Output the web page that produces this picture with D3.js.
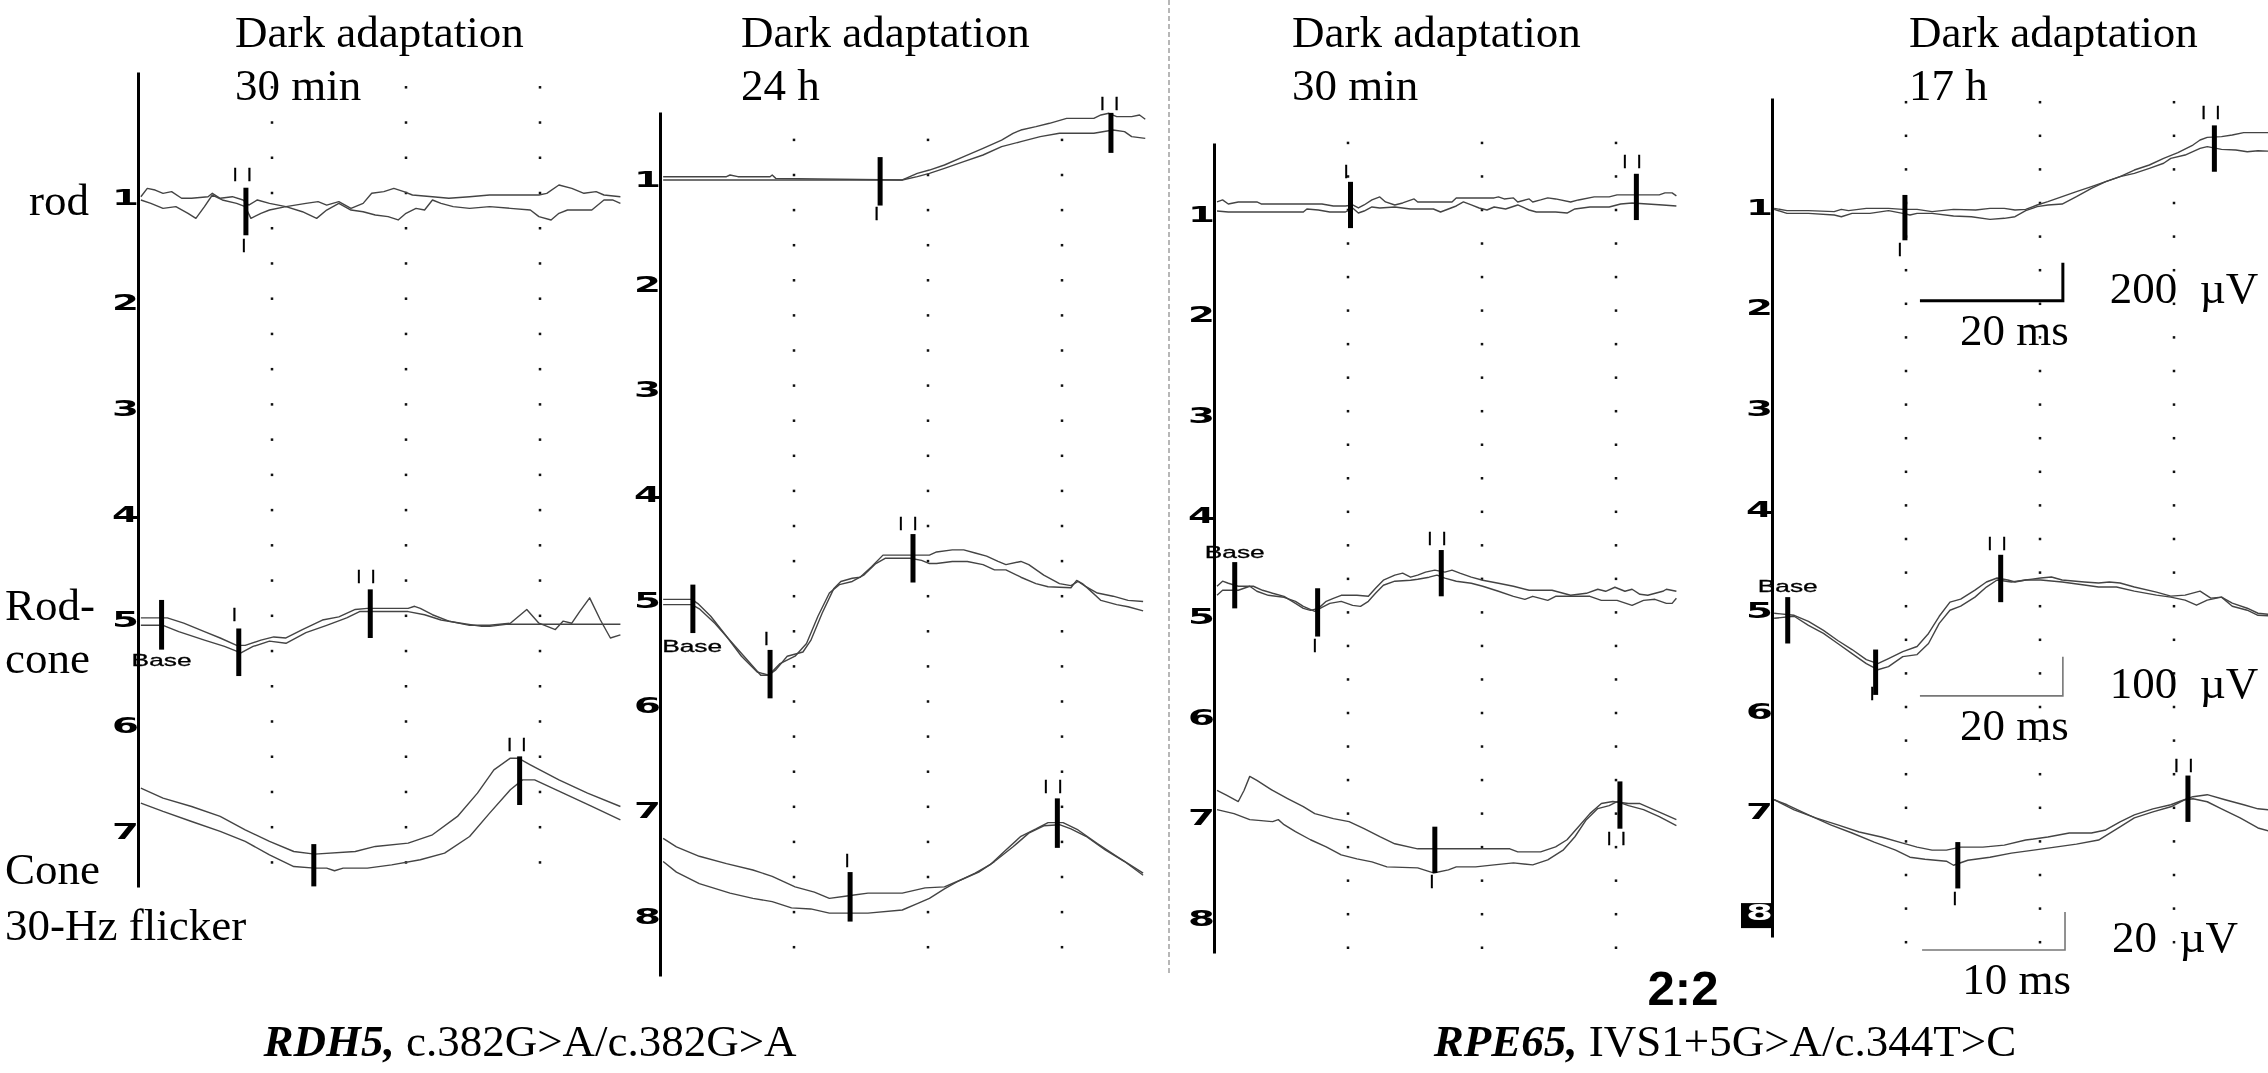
<!DOCTYPE html>
<html>
<head>
<meta charset="utf-8">
<script src="https://cdn.jsdelivr.net/npm/d3@7/dist/d3.min.js"></script>
<style>
  html, body { margin: 0; padding: 0; background: #fff; }
  svg { display: block; will-change: transform; }
</style>
</head>
<body>
<div id="chart-wrapper"></div>
<script>
// ############################################################################
// DATA
// ############################################################################
// Every trace point is [t, v]: t in ms (flicker rows use the 10 ms bar, so
// their ms are half as wide), v in channel units of the recorder axis (1..8).
// Each response was recorded twice, hence the A and B traces.

// ---- RDH5, dark adaptation 30 min -----------------------------------------
const p1RodA = [[0.4,1.035],[1.3,0.956],[2.4,0.972],[3.5,1.003],[4.7,0.987],[6.1,1.05],[7.5,1.05],[9.8,1.035],[10.4,1.003],[11.5,1.05],[13.2,1.035],[14.7,1.066],[15.5,1.114],[16.7,1.066],[18.4,1.098],[20.7,1.129],[23.5,1.098],[25.2,1.082],[26.4,1.114],[28.1,1.082],[29.8,1.145],[31.5,1.098],[32.7,1.003],[34.4,0.987],[35.8,0.956],[37.2,0.987],[38.4,1.019],[41.2,1.035],[43.5,1.05],[46.4,1.035],[49.2,1.019],[52.1,1.019],[56.1,1.019],[57.2,1.003],[58.9,0.924],[60.7,0.956],[62.4,1.003],[64.1,0.987],[65.2,1.019],[67.5,1.035]]
const p1RodB = [[0.4,1.066],[1.8,1.098],[3.5,1.145],[5.3,1.129],[7.0,1.192],[8.1,1.24],[9.3,1.129],[10.4,1.019],[11.8,1.066],[13.8,1.098],[15.0,1.129],[15.8,1.24],[17.2,1.192],[18.4,1.161],[20.7,1.129],[23.0,1.177],[25.0,1.24],[26.4,1.161],[28.1,1.098],[29.8,1.161],[31.5,1.177],[33.2,1.208],[35.0,1.224],[36.4,1.255],[37.5,1.192],[38.9,1.145],[40.1,1.161],[41.2,1.066],[42.4,1.098],[44.1,1.129],[46.4,1.145],[49.2,1.129],[52.1,1.145],[54.9,1.161],[56.1,1.224],[57.8,1.255],[58.9,1.192],[60.1,1.161],[63.5,1.161],[65.2,1.066],[66.4,1.066],[67.5,1.098]]
const p1RcA = [[0.4,5.02],[4.1,5.02],[6.4,5.07],[9.3,5.15],[11.5,5.21],[13.8,5.28],[15.0,5.28],[17.2,5.23],[19.0,5.20],[20.7,5.21],[23.0,5.13],[25.8,5.04],[28.1,5.01],[30.4,4.94],[32.1,4.93],[37.8,4.93],[38.7,4.91],[39.5,4.93],[41.2,4.99],[43.5,5.05],[46.4,5.09],[49.2,5.09],[52.1,5.07],[54.4,4.94],[56.1,5.07],[58.4,5.13],[59.5,5.05],[60.7,5.07],[61.8,4.96],[63.2,4.83],[64.7,5.04],[66.1,5.21],[67.5,5.18]]
const p1RcB = [[0.4,5.09],[3.5,5.09],[5.7,5.15],[9.3,5.23],[12.1,5.29],[14.4,5.35],[16.1,5.29],[18.4,5.24],[20.7,5.26],[23.5,5.16],[26.4,5.09],[29.2,5.02],[31.0,4.96],[32.7,4.96],[37.8,4.96],[40.1,4.99],[42.4,5.04],[45.2,5.07],[48.1,5.10],[49.2,5.10],[51.5,5.08],[54.9,5.08],[57.2,5.08],[60.7,5.08],[67.5,5.08]]
const p1FlA = [[0.2,6.63],[1.75,6.725],[3.75,6.804],[5.75,6.898],[7.5,7.025],[9.2,7.135],[10.9,7.23],[12.35,7.255],[15.2,7.23],[16.6,7.182],[18.9,7.151],[20.6,7.072],[22.35,6.898],[23.75,6.678],[24.9,6.457],[26.05,6.347],[26.6,6.347],[27.45,6.41],[29.45,6.552],[31.45,6.678],[33.75,6.804]]
const p1FlB = [[0.2,6.772],[1.75,6.851],[3.75,6.946],[5.75,7.04],[7.5,7.135],[9.2,7.261],[10.9,7.372],[12.35,7.387],[13.2,7.387],[13.75,7.412],[14.35,7.387],[16.05,7.387],[17.75,7.356],[19.75,7.308],[21.45,7.245],[23.2,7.088],[24.6,6.867],[26.05,6.646],[26.9,6.552],[27.75,6.552],[29.75,6.678],[31.75,6.804],[33.75,6.93]]
// markers: [row, t, v from, v to]; tags: [row, text, t, v]
const p1Bars = [['rod',15.1,0.95,1.40],['rc',3.3,4.85,5.32],['rc',14.1,5.12,5.57],['rc',32.5,4.75,5.21],['fl',12.3,7.16,7.56],['fl',26.7,6.33,6.79]]
const p1Tags = [['rod','II',14.6,0.89],['rod','I',14.8,1.56],['rc','Base',3.3,5.475],['rc','I',13.5,5.05],['rc','II',31.9,4.69],['fl','II',26.5,6.28]]

// ---- RDH5, dark adaptation 24 h -------------------------------------------
const p2RodA = [[0.44,1.016],[9.3,1.016],[9.8,1.0],[10.9,1.016],[15.4,1.016],[15.7,1.0],[16.2,1.032],[33.9,1.047],[34.4,1.032],[36.0,0.984],[37.7,0.953],[39.8,0.905],[42.5,0.826],[45.2,0.747],[47.8,0.668],[49.4,0.604],[50.5,0.573],[52.6,0.541],[54.5,0.509],[56.9,0.462],[60.7,0.462],[61.7,0.43],[62.8,0.414],[63.9,0.446],[66.0,0.446],[67.1,0.43],[67.9,0.471]]
const p2RodB = [[0.44,1.047],[33.9,1.047],[36.0,1.016],[37.7,0.984],[39.8,0.937],[42.5,0.873],[45.2,0.81],[47.8,0.731],[50.5,0.683],[53.2,0.636],[55.9,0.604],[60.7,0.604],[63.4,0.573],[65.0,0.588],[66.0,0.636],[67.9,0.652]]
const p2RcA = [[0.44,5.03],[4.45,5.03],[5.3,5.07],[7.1,5.19],[9.3,5.38],[11.4,5.57],[13.6,5.72],[15.2,5.75],[16.2,5.70],[17.8,5.57],[20.0,5.53],[21.1,5.42],[22.7,5.16],[24.3,4.93],[25.3,4.86],[26.9,4.83],[28.0,4.82],[29.6,4.72],[31.2,4.61],[37.7,4.61],[38.7,4.58],[40.9,4.56],[42.5,4.56],[44.1,4.59],[45.7,4.62],[47.3,4.67],[48.4,4.70],[50.5,4.67],[51.6,4.70],[53.7,4.80],[55.9,4.88],[57.5,4.90],[58.5,4.86],[59.6,4.91],[61.2,4.97],[63.4,5.00],[65.5,5.04],[67.6,5.05]]
const p2RcB = [[0.44,5.08],[4.45,5.08],[5.5,5.12],[7.7,5.26],[9.8,5.42],[12.0,5.59],[14.1,5.75],[15.2,5.75],[16.8,5.64],[18.9,5.57],[20.5,5.45],[22.1,5.19],[23.7,4.97],[25.1,4.89],[26.9,4.86],[28.5,4.80],[30.2,4.69],[31.5,4.64],[35.0,4.64],[36.6,4.66],[37.7,4.69],[38.7,4.69],[40.9,4.67],[43.0,4.67],[45.2,4.70],[46.8,4.75],[48.4,4.75],[50.5,4.82],[52.6,4.88],[54.3,4.91],[57.5,4.92],[58.3,4.85],[59.1,4.88],[60.1,4.94],[61.7,5.04],[63.9,5.08],[65.5,5.10],[67.6,5.14]]
const p2FlA = [[0.22,7.30],[1.15,7.38],[2.75,7.47],[4.65,7.54],[6.5,7.60],[7.85,7.66],[9.45,7.76],[10.8,7.81],[11.85,7.87],[12.95,7.85],[13.45,7.84],[14.55,7.82],[16.95,7.82],[18.55,7.77],[19.9,7.76],[20.95,7.70],[22.05,7.63],[23.1,7.55],[24.2,7.41],[25.25,7.28],[26.3,7.21],[27.15,7.15],[28.2,7.15],[29.25,7.22],[30.6,7.35],[31.95,7.47],[33.8,7.63]]
const p2FlB = [[0.22,7.52],[1.15,7.62],[2.75,7.73],[4.9,7.82],[6.5,7.87],[7.85,7.90],[9.2,7.96],[10.55,7.97],[11.85,8.01],[13.2,8.01],[14.55,8.01],[16.95,7.98],[18.0,7.92],[18.85,7.87],[19.9,7.78],[20.95,7.70],[22.3,7.62],[23.4,7.52],[24.7,7.38],[25.8,7.25],[26.85,7.18],[27.95,7.17],[28.75,7.21],[29.8,7.28],[31.15,7.41],[32.5,7.52],[33.8,7.65]]
const p2Bars = [['rod',30.8,0.83,1.29],['rod',63.1,0.41,0.79],['rc',4.6,4.89,5.35],['rc',15.4,5.51,5.97],['rc',35.4,4.41,4.87],['fl',13.3,7.62,8.09],['fl',27.8,6.92,7.39]]
const p2Tags = [['rod','I',30.3,1.43],['rod','II',62.9,0.38],['rc','Base',4.5,5.53],['rc','I',14.9,5.46],['rc','II',34.7,4.37],['fl','I',13.1,7.57],['fl','II',27.5,6.87]]

// ---- RPE65, dark adaptation 30 min ----------------------------------------
const p3RodA = [[0.42,0.92],[1.2,0.90],[2.0,0.94],[3.4,0.92],[6.0,0.92],[6.6,0.94],[15.1,0.94],[16.7,0.96],[18.4,0.96],[19.4,0.95],[20.2,0.98],[21.0,0.95],[22.1,0.90],[23.2,0.87],[24.0,0.92],[25.3,0.95],[26.4,0.93],[28.0,0.89],[28.5,0.92],[33.3,0.92],[33.9,0.88],[39.2,0.88],[39.8,0.87],[40.6,0.89],[41.9,0.88],[42.5,0.92],[44.1,0.89],[44.6,0.92],[45.7,0.90],[46.7,0.88],[47.8,0.89],[49.9,0.92],[51.0,0.90],[53.2,0.87],[55.3,0.87],[56.4,0.85],[62.3,0.85],[63.1,0.83],[64.1,0.83],[64.7,0.86]]
const p3RodB = [[0.42,1.01],[2.0,1.02],[12.5,1.02],[13.0,0.99],[14.6,1.0],[16.2,1.02],[18.4,1.02],[19.4,0.98],[20.2,1.03],[21.0,1.01],[22.1,0.97],[23.2,0.98],[25.3,0.97],[27.5,0.99],[30.7,0.99],[31.7,1.02],[32.8,0.99],[33.9,0.96],[34.9,0.92],[36.0,0.95],[37.1,0.98],[38.2,1.0],[39.2,0.97],[40.8,0.99],[42.5,0.95],[44.1,1.0],[45.1,1.02],[47.8,1.02],[49.4,1.03],[50.5,0.99],[52.6,0.97],[55.3,0.97],[56.9,0.94],[58.5,0.93],[62.8,0.95],[64.7,0.96]]
const p3RcA = [[0.42,4.74],[1.2,4.69],[2.0,4.71],[3.4,4.74],[5.5,4.74],[6.8,4.78],[8.2,4.81],[9.8,4.84],[11.4,4.91],[12.5,4.96],[13.5,4.98],[14.6,4.96],[15.7,4.89],[16.7,4.86],[17.8,4.83],[20.0,4.83],[21.6,4.84],[22.6,4.76],[23.7,4.68],[25.3,4.63],[26.4,4.61],[27.5,4.65],[28.5,4.63],[29.6,4.60],[30.9,4.58],[32.3,4.60],[33.3,4.58],[34.4,4.61],[36.0,4.65],[37.6,4.68],[39.8,4.71],[41.9,4.74],[44.1,4.78],[47.3,4.78],[49.9,4.83],[52.1,4.81],[53.7,4.77],[54.8,4.79],[56.1,4.75],[57.5,4.79],[58.5,4.77],[59.6,4.82],[60.7,4.83],[62.8,4.79],[63.3,4.77],[64.7,4.79]]
const p3RcB = [[0.42,4.83],[1.2,4.78],[3.4,4.78],[5.0,4.74],[6.0,4.79],[7.6,4.83],[9.8,4.85],[11.4,4.89],[12.5,4.94],[14.1,4.99],[15.1,4.95],[16.2,4.91],[17.8,4.89],[19.4,4.93],[20.5,4.94],[21.6,4.89],[22.6,4.81],[23.7,4.73],[25.3,4.69],[27.5,4.68],[28.5,4.67],[30.1,4.65],[31.2,4.63],[32.3,4.66],[33.9,4.69],[36.0,4.71],[37.6,4.74],[39.8,4.79],[41.9,4.84],[43.5,4.87],[44.6,4.84],[46.7,4.88],[47.8,4.84],[52.6,4.84],[54.2,4.88],[56.4,4.88],[58.5,4.93],[60.1,4.88],[61.7,4.87],[63.3,4.91],[64.1,4.91],[64.7,4.86]]
const p3FlA = [[0.21,6.77],[0.9,6.82],[1.7,6.88],[2.1,6.77],[2.5,6.63],[3.0,6.67],[4.1,6.77],[5.15,6.85],[6.25,6.93],[7.05,7.00],[8.35,7.05],[9.45,7.08],[10.5,7.15],[11.6,7.23],[12.65,7.30],[14.25,7.35],[20.7,7.35],[21.25,7.38],[22.85,7.38],[23.9,7.33],[24.7,7.26],[25.5,7.13],[26.3,7.00],[27.1,6.90],[27.9,6.88],[29.0,6.90],[29.8,6.90],[30.6,6.95],[31.4,7.00],[32.35,7.06]]
const p3FlB = [[0.21,6.96],[1.4,7.00],[2.5,7.06],[3.3,7.07],[4.1,7.08],[4.5,7.06],[4.9,7.11],[5.7,7.18],[6.75,7.26],[7.85,7.33],[8.9,7.41],[10.0,7.45],[11.05,7.48],[12.1,7.53],[14.25,7.54],[15.35,7.59],[16.4,7.56],[16.95,7.53],[18.3,7.53],[19.6,7.51],[20.95,7.49],[22.3,7.51],[23.35,7.46],[24.45,7.36],[25.25,7.23],[26.05,7.06],[26.85,6.95],[27.65,6.92],[28.2,6.88],[29.0,6.92],[30.05,6.96],[31.15,7.03],[32.35,7.12]]
const p3Bars = [['rod',19.1,0.72,1.18],['rod',59.1,0.64,1.10],['rc',2.9,4.50,4.96],['rc',14.5,4.76,5.24],['rc',31.8,4.38,4.84],['fl',15.45,7.13,7.59],['fl',28.4,6.68,7.15]]
const p3Tags = [['rod','I',18.5,0.685],['rod','II',58.5,0.585],['rc','Base',2.9,4.46],['rc','I',14.1,5.39],['rc','II',31.2,4.33],['fl','I',15.25,7.74],['fl','II',28.15,7.31]]

// ---- RPE65, dark adaptation 17 h ------------------------------------------
const p4RodA = [[0.3,1.053],[2.1,1.076],[5.1,1.076],[8.7,1.086],[9.7,1.063],[10.7,1.076],[13.2,1.053],[16.3,1.053],[18.3,1.063],[20.3,1.063],[22.4,1.086],[25.4,1.063],[28.5,1.069],[30.5,1.053],[32.5,1.053],[34.0,1.069],[35.5,1.063],[37.1,1.020],[38.6,0.987],[40.6,0.937],[42.6,0.888],[44.7,0.838],[46.7,0.788],[48.7,0.739],[50.7,0.673],[52.8,0.623],[54.8,0.557],[56.8,0.501],[58.9,0.425],[59.9,0.375],[60.9,0.349],[62.9,0.342],[64.4,0.325],[66.0,0.302],[71.0,0.302]]
const p4RodB = [[0.3,1.063],[2.1,1.103],[5.1,1.103],[8.7,1.119],[9.7,1.136],[11.2,1.103],[13.7,1.103],[16.3,1.076],[18.3,1.103],[19.3,1.119],[20.3,1.103],[22.4,1.103],[25.4,1.129],[27.9,1.136],[30.5,1.162],[32.5,1.152],[34.0,1.136],[35.5,1.076],[37.1,1.036],[38.6,1.020],[40.6,1.010],[42.6,0.937],[44.7,0.854],[46.7,0.788],[48.7,0.739],[50.7,0.706],[52.8,0.656],[54.8,0.606],[55.8,0.557],[57.8,0.524],[59.9,0.458],[60.9,0.441],[62.9,0.468],[64.9,0.474],[66.5,0.491],[68.0,0.481],[71.0,0.491]]
const p4RcA = [[0.3,5.07],[3.1,5.09],[5.1,5.15],[7.2,5.24],[9.2,5.34],[11.2,5.43],[13.2,5.53],[14.8,5.57],[16.3,5.52],[18.3,5.45],[20.3,5.40],[21.9,5.27],[23.4,5.10],[24.9,4.96],[26.4,4.93],[28.4,4.84],[30.0,4.76],[31.5,4.72],[33.0,4.74],[34.0,4.76],[35.5,4.74],[37.6,4.72],[39.1,4.71],[40.6,4.74],[43.7,4.76],[45.7,4.77],[47.2,4.76],[48.7,4.77],[50.7,4.81],[53.8,4.86],[55.8,4.90],[57.8,4.89],[59.9,4.85],[61.4,4.92],[62.9,4.91],[64.4,4.97],[66.5,5.02],[68.0,5.07],[71.0,5.09]]
const p4RcB = [[0.3,5.12],[3.1,5.10],[5.1,5.19],[7.2,5.27],[9.2,5.37],[11.2,5.47],[13.2,5.57],[14.8,5.63],[16.3,5.60],[18.3,5.50],[20.3,5.48],[21.9,5.37],[23.4,5.17],[24.9,5.04],[26.4,5.00],[28.4,4.91],[30.0,4.81],[31.5,4.74],[33.5,4.76],[35.5,4.74],[37.6,4.74],[40.6,4.76],[43.7,4.79],[45.7,4.81],[48.2,4.81],[50.7,4.85],[53.8,4.89],[55.8,4.91],[57.8,4.94],[59.4,4.99],[60.9,4.94],[62.9,4.91],[64.4,5.00],[66.5,5.04],[68.0,5.09],[71.0,5.10]]
const p4FlA = [[0.15,6.92],[1.55,7.02],[3.05,7.10],[4.6,7.17],[6.1,7.24],[7.65,7.29],[9.15,7.35],[10.15,7.39],[11.2,7.42],[12.2,7.42],[13.2,7.39],[14.75,7.39],[16.25,7.37],[17.75,7.32],[19.3,7.29],[20.8,7.25],[22.35,7.25],[23.35,7.22],[24.35,7.14],[25.35,7.07],[26.65,7.01],[27.9,6.97],[28.65,6.93],[29.45,6.89],[30.45,6.87],[31.7,6.92],[33.0,6.97],[34.0,7.01],[35.5,7.03]]
const p4FlB = [[0.15,6.92],[1.05,6.97],[2.55,7.07],[4.1,7.17],[5.6,7.25],[7.15,7.34],[8.65,7.42],[9.65,7.49],[10.7,7.51],[12.2,7.53],[12.7,7.57],[13.7,7.52],[15.25,7.49],[16.75,7.45],[18.3,7.42],[19.8,7.39],[21.3,7.36],[22.85,7.32],[24.35,7.19],[25.35,7.10],[26.65,7.04],[27.9,6.99],[28.9,6.92],[29.45,6.91],[30.45,6.94],[31.45,7.01],[32.75,7.10],[34.0,7.20],[35.5,7.26]]
const p4Bars = [['rod',18.6,0.92,1.37],['rod',61.9,0.23,0.69],['rc',2.2,4.91,5.37],['rc',14.5,5.43,5.88],['rc',32.0,4.49,4.96],['fl',13.0,7.34,7.80],['fl',29.1,6.68,7.14]]
const p4Tags = [['rod','I',17.9,1.53],['rod','II',61.4,0.17],['rc','Base',2.2,4.86],['rc','I',14.0,5.93],['rc','II',31.5,4.44],['fl','I',12.8,7.96],['fl','II',28.8,6.64]]

// calibration bars of the last panel: [row, t start, t length, v, µV]
const calibBars = [['rod',20.7,20,1.97,200],['rc',20.7,20,5.89,100],['fl',10.5,10,8.41,20]]

const rowNames = [['rod'], ['Rod-','cone'], ['Cone','30-Hz flicker']]
const captions = [['RDH5,', ' c.382G>A/c.382G>A'], ['RPE65,', ' IVS1+5G>A/c.344T>C']]


// ############################################################################
// LAYOUT
// ############################################################################

const WIDTH  = 2268
const HEIGHT = 1073
const COL_W  = 134                                   // px per grid division
const MS_PER_DIV  = { rod: 18.75, rc: 18.75, fl: 9.375 }
const UV_PER_UNIT = { rod: 530, rc: 258, fl: 53 }    // µV per channel unit

const SERIF = "'Liberation Serif', 'Times New Roman', serif"
const SANS  = "'Liberation Sans', Arial, sans-serif"

const panels = [
  { axisX: 138,  y1: 193, step: 105.7, top: 72,  bottom: 887, dotRows: [0, 22],
    nLabels: 7, titleX: 235,  title: ['Dark adaptation', '30 min'],
    traces: { rod: [p1RodA, p1RodB], rc: [p1RcA, p1RcB], fl: [p1FlA, p1FlB] },
    bars: p1Bars, tags: p1Tags },
  { axisX: 660,  y1: 175, step: 105.3, top: 112, bottom: 976, dotRows: [2, 25],
    nLabels: 8, titleX: 741,  title: ['Dark adaptation', '24 h'],
    traces: { rod: [p2RodA, p2RodB], rc: [p2RcA, p2RcB], fl: [p2FlA, p2FlB] },
    bars: p2Bars, tags: p2Tags },
  { axisX: 1214, y1: 210, step: 100.6, top: 143, bottom: 953, dotRows: [1, 25],
    nLabels: 8, titleX: 1292, title: ['Dark adaptation', '30 min'],
    traces: { rod: [p3RodA, p3RodB], rc: [p3RcA, p3RcB], fl: [p3FlA, p3FlB] },
    bars: p3Bars, tags: p3Tags },
  { axisX: 1772, y1: 203, step: 100.8, top: 98,  bottom: 937, dotRows: [0, 25],
    nLabels: 8, titleX: 1909, title: ['Dark adaptation', '17 h'],
    traces: { rod: [p4RodA, p4RodB], rc: [p4RcA, p4RcB], fl: [p4FlA, p4FlB] },
    bars: p4Bars, tags: p4Tags, highlight: 8, calib: calibBars }
]


// ############################################################################
// ERG PANEL                                                             View
// ############################################################################

class ErgPanel
{
  constructor(svg, cfg)
  {
    this._cfg = cfg
    this._g = svg.append('g').attr('class', 'erg-panel')

    // time scales: rod / rod-cone share one, flicker has double resolution
    const range = [cfg.axisX, cfg.axisX + 4 * COL_W]
    this._x = {
      rod: d3.scaleLinear().domain([0, 4 * MS_PER_DIV.rod]).range(range),
      rc:  d3.scaleLinear().domain([0, 4 * MS_PER_DIV.rc]).range(range),
      fl:  d3.scaleLinear().domain([0, 4 * MS_PER_DIV.fl]).range(range)
    }
    this._y = d3.scaleLinear().domain([1, 8]).range([cfg.y1, cfg.y1 + 7 * cfg.step])

    this._drawGrid()
    this._drawAxis()
    this._drawTraces()
    this._drawMarkers()
    this._drawTitle()
    if (cfg.calib) this._drawCalibration()
  }

  // ==========================================================================
  // Dotted division grid
  // ==========================================================================

  _drawGrid()
  {
    const [k0, k1] = this._cfg.dotRows
    const dots = []
    for (let c = 1; c <= 3; c++)
      for (let k = k0; k <= k1; k++)
        dots.push([c * MS_PER_DIV.rod, k / 3])

    this._g.append('g').selectAll('rect')
      .data(dots)
      .join('rect')
      .attr('x', d => this._x.rod(d[0]) - 1.25)
      .attr('y', d => this._y(d[1]) - 1.25)
      .attr('width', 2.5)
      .attr('height', 2.5)
      .attr('fill', '#111')
  }

  // ==========================================================================
  // Channel axis (1..8)
  // ==========================================================================

  _drawAxis()
  {
    const cfg = this._cfg
    // same mapping, range stretched so the spine runs the full height
    const yAxis = this._y.copy()
      .domain([this._y.invert(cfg.top), this._y.invert(cfg.bottom)])
      .range([cfg.top, cfg.bottom])

    const axis = d3.axisLeft(yAxis)
      .tickValues(d3.range(1, cfg.nLabels + 1))
      .tickFormat(d3.format('d'))
      .tickSize(0)
      .tickPadding(0)

    const ag = this._g.append('g')
      .attr('transform', `translate(${cfg.axisX},0)`)
      .call(axis)

    ag.select('.domain').attr('stroke', '#000').attr('stroke-width', 3)

    ag.selectAll('.tick text')
      .attr('x', 1)
      .attr('dy', 11)
      .attr('fill', d => d === cfg.highlight ? '#fff' : '#000')
      .attr('font-family', "'DejaVu Sans', sans-serif")
      .attr('font-weight', 'bold')
      .attr('font-size', 21)
      .attr('textLength', 27)
      .attr('lengthAdjust', 'spacingAndGlyphs')

    // selected channel is drawn inverted
    ag.selectAll('.tick')
      .filter(d => d === cfg.highlight)
      .insert('rect', 'text')
      .attr('x', -31).attr('y', -6)
      .attr('width', 31).attr('height', 25)
      .attr('fill', '#000')
  }

  // ==========================================================================
  // Recorded traces
  // ==========================================================================

  _drawTraces()
  {
    Object.entries(this._cfg.traces).forEach(([row, pair]) =>
    {
      const line = d3.line()
        .x(d => this._x[row](d[0]))
        .y(d => this._y(d[1]))

      this._g.append('g').selectAll('path')
        .data(pair)
        .join('path')
        .attr('d', line)
        .attr('fill', 'none')
        .attr('stroke', '#444')
        .attr('stroke-width', 1.4)
        .attr('stroke-linejoin', 'round')
    })
  }

  // ==========================================================================
  // Peak markers and their I / II / Base tags
  // ==========================================================================

  _drawMarkers()
  {
    this._g.append('g').selectAll('line')
      .data(this._cfg.bars)
      .join('line')
      .attr('x1', d => this._x[d[0]](d[1]))
      .attr('x2', d => this._x[d[0]](d[1]))
      .attr('y1', d => this._y(d[2]))
      .attr('y2', d => this._y(d[3]))
      .attr('stroke', '#000')
      .attr('stroke-width', 5)

    this._g.append('g')
      .selectAll('text')
      .data(this._cfg.tags)
      .join('text')
      .attr('x', d => this._x[d[0]](d[2]))
      .attr('y', d => this._y(d[3]))
      .attr('dx', d => d[1] === 'II' ? 4.5 : 0)
      .attr('text-anchor', 'middle')
      .attr('font-family', SANS)
      .attr('font-size', d => d[1] === 'Base' ? 17 : 19)
      .attr('letter-spacing', d => d[1] === 'II' ? 9 : 0)
      .attr('fill', '#000')
      .attr('stroke', '#000')
      .attr('stroke-width', 0.3)
      .each(function(d)
      {
        if (d[1] === 'Base')
          d3.select(this).attr('textLength', 60).attr('lengthAdjust', 'spacingAndGlyphs')
      })
      .text(d => d[1])
  }

  // ==========================================================================
  // Panel heading
  // ==========================================================================

  _drawTitle()
  {
    this._g.append('g').selectAll('text')
      .data(this._cfg.title)
      .join('text')
      .attr('x', this._cfg.titleX)
      .attr('y', (d, i) => 47 + i * 53)
      .attr('font-family', SERIF)
      .attr('font-size', 45)
      .text(d => d)
  }

  // ==========================================================================
  // Calibration bars (time / amplitude)
  // ==========================================================================

  _drawCalibration()
  {
    const g = this._g.append('g')
    this._cfg.calib.forEach(([row, t0, dt, v, uV]) =>
    {
      const x = this._x[row]
      const xa = x(t0), xb = x(t0 + dt)
      const ya = this._y(v), yb = this._y(v - uV / UV_PER_UNIT[row])

      g.append('path')
        .attr('d', `M${xa},${ya}H${xb}V${yb}`)
        .attr('fill', 'none')
        .attr('stroke', row === 'rod' ? '#000' : '#777')
        .attr('stroke-width', row === 'rod' ? 3 : 1.6)

      g.append('text')
        .attr('x', (xa + xb) / 2 + 23)
        .attr('y', ya + 44)
        .attr('text-anchor', 'middle')
        .attr('font-family', SERIF)
        .attr('font-size', 45)
        .text(dt + ' ms')

      g.append('text')
        .attr('x', xb + 47)
        .attr('y', ya + 2)
        .attr('font-family', SERIF)
        .attr('font-size', 45)
        .style('white-space', 'pre')
        .text(uV + '\u00a0\u00a0\u00b5V')
    })
  }
}


// ############################################################################
// FIGURE
// ############################################################################

const svg = d3.select('#chart-wrapper')
  .append('svg')
  .attr('width', WIDTH)
  .attr('height', HEIGHT)
  .attr('viewBox', `0 0 ${WIDTH} ${HEIGHT}`)

// separator between the two patients
svg.append('line')
  .attr('x1', 1169).attr('x2', 1169)
  .attr('y1', 0).attr('y2', 975)
  .attr('stroke', '#888')
  .attr('stroke-width', 1.2)
  .attr('stroke-dasharray', '5,3')

panels.forEach(cfg => new ErgPanel(svg, cfg))

// row names on the far left
const rowBaselines = [[215], [620, 673], [884, 940]]
rowNames.forEach((lines, r) =>
{
  svg.append('g').selectAll('text')
    .data(lines)
    .join('text')
    .attr('x', (d, i) => r === 0 ? 29 : 5)
    .attr('y', (d, i) => rowBaselines[r][i])
    .attr('font-family', SERIF)
    .attr('font-size', 45)
    .text(d => d)
})

// visit number
svg.append('text')
  .attr('x', 1683)
  .attr('y', 1005)
  .attr('text-anchor', 'middle')
  .attr('font-family', SANS)
  .attr('font-weight', 'bold')
  .attr('font-size', 49)
  .text('2:2')

// genotype captions
const captionX = [530, 1725]
captions.forEach((c, i) =>
{
  const t = svg.append('text')
    .attr('x', captionX[i])
    .attr('y', 1056)
    .attr('text-anchor', 'middle')
    .attr('font-family', SERIF)
    .attr('font-size', 45)
    .style('white-space', 'pre')
  t.append('tspan').attr('font-weight', 'bold').attr('font-style', 'italic').text(c[0])
  t.append('tspan').text(c[1])
})
</script>
</body>
</html>
